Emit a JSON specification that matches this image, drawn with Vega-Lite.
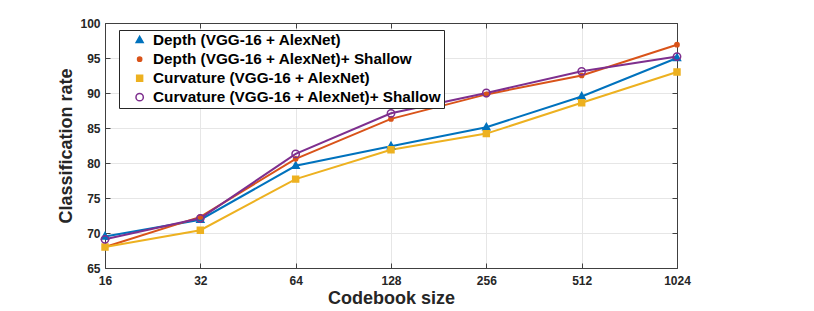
{
  "$schema": "https://vega.github.io/schema/vega-lite/v6.json",
  "width": 572,
  "height": 245,
  "autosize": {"type": "none"},
  "padding": {"left": 105, "top": 23, "right": 137, "bottom": 43},
  "background": "white",
  "config": {
    "font": "Liberation Sans",
    "view": {"stroke": "#404040", "strokeWidth": 1},
    "axis": {
      "labelFont": "Liberation Sans",
      "labelFontSize": 12,
      "labelFontWeight": "bold",
      "labelColor": "#262626",
      "labelFlush": false,
      "titleFont": "Liberation Sans",
      "titleFontSize": 18,
      "titleFontWeight": "bold",
      "titleColor": "#262626",
      "gridColor": "#e6e6e6",
      "gridWidth": 1,
      "domainColor": "#404040",
      "tickColor": "#404040",
      "tickSize": -5
    },
    "legend": {
      "orient": "none",
      "legendX": 14,
      "legendY": 7,
      "title": null,
      "fillColor": "white",
      "strokeColor": "#262626",
      "padding": 2.5,
      "labelFont": "Liberation Sans",
      "labelFontSize": 15.3,
      "labelFontWeight": "bold",
      "labelColor": "black",
      "labelLimit": 400,
      "symbolSize": 49,
      "symbolStrokeWidth": 1.5,
      "symbolOffset": 10.5,
      "labelOffset": 5.7,
      "rowPadding": 3
    }
  },
  "data": {
    "values": [
      {"size": 16, "rate": 69.5, "series": "Depth (VGG-16 + AlexNet)"},
      {"size": 32, "rate": 71.9, "series": "Depth (VGG-16 + AlexNet)"},
      {"size": 64, "rate": 79.6, "series": "Depth (VGG-16 + AlexNet)"},
      {"size": 128, "rate": 82.4, "series": "Depth (VGG-16 + AlexNet)"},
      {"size": 256, "rate": 85.1, "series": "Depth (VGG-16 + AlexNet)"},
      {"size": 512, "rate": 89.5, "series": "Depth (VGG-16 + AlexNet)"},
      {"size": 1024, "rate": 95.0, "series": "Depth (VGG-16 + AlexNet)"},
      {"size": 16, "rate": 68.0, "series": "Depth (VGG-16 + AlexNet)+ Shallow"},
      {"size": 32, "rate": 72.3, "series": "Depth (VGG-16 + AlexNet)+ Shallow"},
      {"size": 64, "rate": 80.6, "series": "Depth (VGG-16 + AlexNet)+ Shallow"},
      {"size": 128, "rate": 86.3, "series": "Depth (VGG-16 + AlexNet)+ Shallow"},
      {"size": 256, "rate": 89.8, "series": "Depth (VGG-16 + AlexNet)+ Shallow"},
      {"size": 512, "rate": 92.5, "series": "Depth (VGG-16 + AlexNet)+ Shallow"},
      {"size": 1024, "rate": 96.9, "series": "Depth (VGG-16 + AlexNet)+ Shallow"},
      {"size": 16, "rate": 68.0, "series": "Curvature (VGG-16 + AlexNet)"},
      {"size": 32, "rate": 70.4, "series": "Curvature (VGG-16 + AlexNet)"},
      {"size": 64, "rate": 77.7, "series": "Curvature (VGG-16 + AlexNet)"},
      {"size": 128, "rate": 81.9, "series": "Curvature (VGG-16 + AlexNet)"},
      {"size": 256, "rate": 84.2, "series": "Curvature (VGG-16 + AlexNet)"},
      {"size": 512, "rate": 88.6, "series": "Curvature (VGG-16 + AlexNet)"},
      {"size": 1024, "rate": 93.0, "series": "Curvature (VGG-16 + AlexNet)"},
      {"size": 16, "rate": 69.1, "series": "Curvature (VGG-16 + AlexNet)+ Shallow"},
      {"size": 32, "rate": 72.1, "series": "Curvature (VGG-16 + AlexNet)+ Shallow"},
      {"size": 64, "rate": 81.3, "series": "Curvature (VGG-16 + AlexNet)+ Shallow"},
      {"size": 128, "rate": 87.1, "series": "Curvature (VGG-16 + AlexNet)+ Shallow"},
      {"size": 256, "rate": 90.0, "series": "Curvature (VGG-16 + AlexNet)+ Shallow"},
      {"size": 512, "rate": 93.1, "series": "Curvature (VGG-16 + AlexNet)+ Shallow"},
      {"size": 1024, "rate": 95.2, "series": "Curvature (VGG-16 + AlexNet)+ Shallow"}
    ]
  },
  "resolve": {"axis": {"x": "independent", "y": "independent"}},
  "layer": [
    {
      "mark": {"type": "line", "strokeWidth": 2},
      "encoding": {
        "x": {
          "field": "size",
          "type": "quantitative",
          "scale": {"type": "log", "base": 2, "domain": [16, 1024]},
          "axis": {"values": [16, 32, 64, 128, 256, 512, 1024], "format": "d", "title": "Codebook size", "labelPadding": 12, "titlePadding": 3}
        },
        "y": {
          "field": "rate",
          "type": "quantitative",
          "scale": {"domain": [65, 100], "nice": false, "zero": false},
          "axis": {"values": [65, 70, 75, 80, 85, 90, 95, 100], "title": "Classification rate", "labelPadding": 10, "titlePadding": 4}
        },
        "stroke": {
          "field": "series",
          "type": "nominal",
          "scale": {
            "domain": ["Depth (VGG-16 + AlexNet)", "Depth (VGG-16 + AlexNet)+ Shallow", "Curvature (VGG-16 + AlexNet)", "Curvature (VGG-16 + AlexNet)+ Shallow"],
            "range": ["#0072BD", "#D95319", "#EDB120", "#7E2F8E"]
          }
        }
      }
    },
    {
      "mark": {"type": "point", "size": 49, "strokeWidth": 1.5, "opacity": 1},
      "encoding": {
        "x": {"field": "size", "type": "quantitative", "axis": {"orient": "top", "values": [16, 32, 64, 128, 256, 512, 1024], "labels": false, "title": null, "grid": false}},
        "y": {"field": "rate", "type": "quantitative", "axis": {"orient": "right", "values": [65, 70, 75, 80, 85, 90, 95, 100], "labels": false, "title": null, "grid": false}},
        "stroke": {"field": "series", "type": "nominal"},
        "fill": {
          "field": "series",
          "type": "nominal",
          "scale": {
            "domain": ["Depth (VGG-16 + AlexNet)", "Depth (VGG-16 + AlexNet)+ Shallow", "Curvature (VGG-16 + AlexNet)", "Curvature (VGG-16 + AlexNet)+ Shallow"],
            "range": ["#0072BD", "#D95319", "#EDB120", "transparent"]
          }
        },
        "shape": {
          "field": "series",
          "type": "nominal",
          "scale": {
            "domain": ["Depth (VGG-16 + AlexNet)", "Depth (VGG-16 + AlexNet)+ Shallow", "Curvature (VGG-16 + AlexNet)", "Curvature (VGG-16 + AlexNet)+ Shallow"],
            "range": [
              "M0,-1.1L1,0.7L-1,0.7Z",
              "M-0.6,0A0.6,0.6,0,1,1,0.6,0A0.6,0.6,0,1,1,-0.6,0Z",
              "M-0.85,-0.85H0.85V0.85H-0.85Z",
              "M-1.05,0A1.05,1.05,0,1,1,1.05,0A1.05,1.05,0,1,1,-1.05,0Z"
            ]
          }
        }
      }
    }
  ]
}
